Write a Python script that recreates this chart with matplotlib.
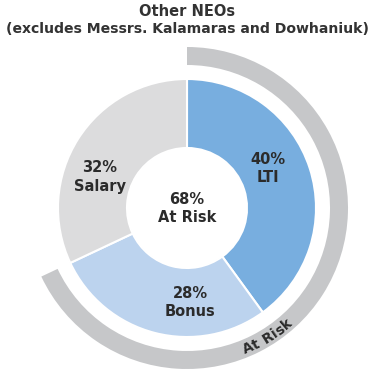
import numpy as np
import matplotlib
matplotlib.use('Agg')
import matplotlib.pyplot as plt
from matplotlib.font_manager import FontProperties
from matplotlib.textpath import text_to_path

# data
labels = ['LTI', 'Bonus', 'Salary']
values = [40, 28, 32]
colors = ['#78aedf', '#bcd3ee', '#dcdcdd']
at_risk = [68, 32]
at_risk_label = 'At Risk'
title1 = 'Other NEOs'
title2 = '(excludes Messrs. Kalamaras and Dowhaniuk)'

W, H = 373, 378
fig = plt.figure(figsize=(W / 100, H / 100), dpi=100)
ax = fig.add_axes([0, 0, 1, 1])

cx, cy = 187, H - 208
r_out, r_in = 129, 60
arc_out, arc_w = 161, 18
txt = '#2b2b2b'

ax.pie(values, radius=r_out, center=(cx, cy), startangle=90, counterclock=False,
       colors=colors, wedgeprops=dict(width=r_out - r_in, edgecolor='white', linewidth=1.5))
ax.pie(at_risk, radius=arc_out, center=(cx, cy), startangle=90, counterclock=False,
       colors=['#c6c7c9', 'none'], wedgeprops=dict(width=arc_w, linewidth=0))

ax.set_xlim(0, W)
ax.set_ylim(0, H)
ax.set_aspect('equal')
ax.axis('off')

lab_pos = {'LTI': (268, 168), 'Bonus': (190, 303), 'Salary': (100, 177)}
for lab, v in zip(labels, values):
    x, y = lab_pos[lab]
    ax.text(x, H - y, f'{v}%\n{lab}', ha='center', va='center', fontsize=10.5,
            fontweight='bold', color=txt, linespacing=1.25)

ax.text(cx, cy, f'{at_risk[0]}%\nAt Risk', ha='center', va='center', fontsize=10.5,
        fontweight='bold', color=txt, linespacing=1.25)

ax.text(cx, H - 12, title1, ha='center', va='center', fontsize=10.5, fontweight='bold', color='#333333')
ax.text(cx, H - 29, title2, ha='center', va='center', fontsize=10.1, fontweight='bold', color='#333333')

# curved "At Risk" along the outer arc
prop = FontProperties(family='DejaVu Sans', weight='bold', size=10)
def tw(s):
    return text_to_path.get_text_width_height_descent(s, prop, ismath=False)[0] * 100 / 72
adv = [(tw('x x') - tw('xx')) if ch == ' ' else tw(ch) for ch in at_risk_label]
r_t = arc_out - arc_w / 2
total = sum(adv)
theta_c = np.radians(-58)
theta0 = theta_c - total / 2 / r_t
pos = 0.0
for ch, a in zip(at_risk_label, adv):
    th = theta0 + (pos + a / 2) / r_t
    pos += a
    if ch == ' ':
        continue
    ax.text(cx + r_t * np.cos(th), cy + r_t * np.sin(th), ch, fontproperties=prop,
            rotation=np.degrees(th) + 90, rotation_mode='anchor',
            ha='center', va='center_baseline', color=txt)

fig.savefig('out.png', dpi=100)
